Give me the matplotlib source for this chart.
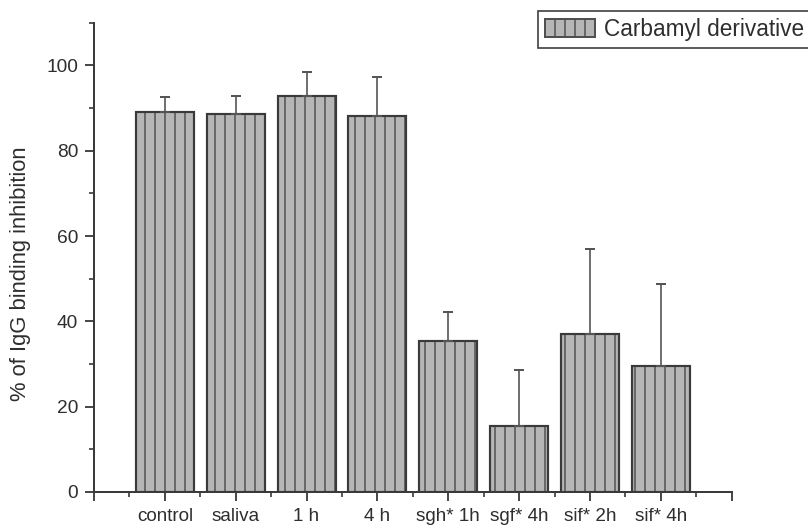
import matplotlib
matplotlib.use("Agg")
import matplotlib.pyplot as plt
from matplotlib.ticker import FixedLocator
from matplotlib.patches import Patch

categories = ["control", "saliva", "1 h", "4 h", "sgh* 1h", "sgf* 4h", "sif* 2h", "sif* 4h"]
values = [89.0, 88.6, 92.9, 88.2, 35.5, 15.5, 37.0, 29.5]
err_upper = [3.6, 4.2, 5.6, 9.0, 6.7, 13.0, 20.0, 19.3]
series_name = "Carbamyl derivative"
ylabel = "% of IgG binding inhibition"

plt.rcParams["font.family"] = ["Liberation Sans", "DejaVu Sans"]
plt.rcParams["hatch.linewidth"] = 0.9
text_color = "#2e2e2e"
line_color = "#3a3a3a"

dpi = 120
fig = plt.figure(figsize=(808 / dpi, 532 / dpi), dpi=dpi)
ax = fig.add_axes([0.1163, 0.0752, 0.7893, 0.882])

x = list(range(1, len(categories) + 1))
ax.bar(x, values, width=0.82, color="#b6b6b6", edgecolor="#505050",
       hatch="||", linewidth=1.0, zorder=2)
ax.bar(x, values, width=0.82, color="none", edgecolor=line_color,
       linewidth=1.3, zorder=3)
ax.errorbar(x, values, yerr=[[0] * len(values), err_upper], fmt="none",
            ecolor="#555555", elinewidth=1.0, capsize=2.8, capthick=1.2, zorder=4)

ax.set_xlim(0, 9)
ax.set_ylim(0, 110)
ax.xaxis.set_major_locator(FixedLocator(list(range(0, 10))))
ax.set_xticklabels([""] + categories + [""])
ax.xaxis.set_minor_locator(FixedLocator([i + 0.5 for i in range(9)]))
ax.yaxis.set_major_locator(FixedLocator([0, 20, 40, 60, 80, 100]))
ax.yaxis.set_minor_locator(FixedLocator([10, 30, 50, 70, 90, 110]))

for s in ["top", "right"]:
    ax.spines[s].set_visible(False)
for s in ["left", "bottom"]:
    ax.spines[s].set_color(line_color)
    ax.spines[s].set_linewidth(1.2)

ax.tick_params(axis="both", which="major", direction="out", length=5.5, width=1.1,
               color=line_color, labelcolor=text_color, labelsize=11.5)
ax.tick_params(axis="both", which="minor", direction="out", length=2.8, width=1.0,
               color=line_color)
ax.tick_params(axis="x", which="major", pad=4, labelsize=11.3)
ax.tick_params(axis="y", which="major", pad=4.0)

ax.set_ylabel(ylabel, fontsize=13.2, color=text_color)
ax.yaxis.set_label_coords(-0.098, 0.465)

handle = Patch(facecolor="#b6b6b6", edgecolor="#505050", hatch="||", linewidth=1.2)
leg = fig.legend([handle], [series_name], loc="upper left",
                 bbox_to_anchor=(538 / 808, 1 - 11 / 532), borderaxespad=0,
                 fontsize=13.6, handlelength=2.2, handleheight=0.85,
                 handletextpad=0.42, borderpad=0.3, fancybox=False,
                 edgecolor="#404040", framealpha=1)
leg.get_frame().set_linewidth(1.0)
for t in leg.get_texts():
    t.set_color(text_color)

fig.savefig("out.png", dpi=dpi, facecolor="white")
